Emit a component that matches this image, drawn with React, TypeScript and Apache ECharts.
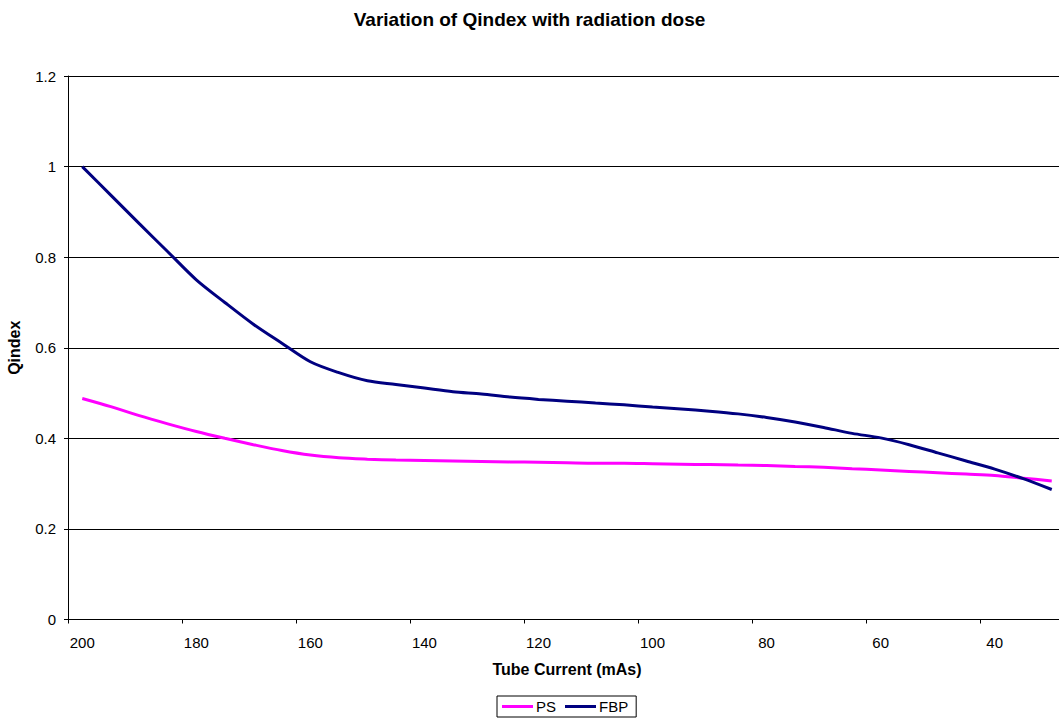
import React, { useEffect, useRef } from "react";
import * as echarts from "echarts";

const TITLE = "Variation of Qindex with radiation dose";
const X_NAME = "Tube Current (mAs)";
const Y_NAME = "Qindex";
const SERIES_NAMES = ["PS", "FBP"];

const MAS = [
  200, 195, 190, 185, 180, 175, 170, 165, 160, 155, 150, 145, 140, 135, 130, 125, 120, 115,
  110, 105, 100, 95, 90, 85, 80, 75, 70, 65, 60, 55, 50, 45, 40, 35, 30,
];

const PS = [
  0.488, 0.47, 0.45, 0.432, 0.415, 0.4, 0.386, 0.373, 0.363, 0.357, 0.354, 0.352, 0.351, 0.35,
  0.349, 0.348, 0.347, 0.346, 0.345, 0.345, 0.344, 0.343, 0.342, 0.341, 0.34, 0.338, 0.336,
  0.333, 0.33, 0.327, 0.324, 0.321, 0.318, 0.312, 0.306,
];

const FBP = [
  1.0, 0.937, 0.874, 0.812, 0.75, 0.7, 0.652, 0.61, 0.569, 0.545, 0.527, 0.519, 0.511, 0.503,
  0.498, 0.491, 0.486, 0.482, 0.478, 0.474, 0.469, 0.465, 0.46, 0.454, 0.446, 0.436, 0.424,
  0.411, 0.401, 0.386, 0.368, 0.35, 0.332, 0.311, 0.287,
];

const X_LABELS = [200, 180, 160, 140, 120, 100, 80, 60, 40];
const X_TICKS = [202.5, 182.5, 162.5, 142.5, 122.5, 102.5, 82.5, 62.5, 42.5];

const FONT = "'Liberation Sans', Arial, sans-serif";

export default function App() {
  const ref = useRef<HTMLDivElement>(null);

  useEffect(() => {
    if (!ref.current) return;
    const chart = echarts.init(ref.current, null, { renderer: "svg" });
    const psData = MAS.map((m, i) => [m, PS[i]]);
    const fbpData = MAS.map((m, i) => [m, FBP[i]]);

    chart.setOption({
      animation: false,
      backgroundColor: "#ffffff",
      textStyle: { fontFamily: FONT, color: "#000" },
      title: {
        text: TITLE,
        left: "center",
        top: 10,
        padding: 0,
        textStyle: { fontFamily: FONT, fontSize: 19, fontWeight: "bold", color: "#000" },
      },
      legend: {
        data: SERIES_NAMES,
        left: 497,
        top: 696,
        orient: "horizontal",
        borderColor: "#000",
        borderWidth: 1,
        borderRadius: 0,
        padding: [3, 8, 3, 5],
        itemWidth: 31,
        itemHeight: 3,
        itemGap: 9,
        icon: "rect",
        textStyle: { fontFamily: FONT, fontSize: 15, color: "#000", padding: [0, 0, 0, -2] },
      },
      grid: {
        left: 68,
        top: 76,
        width: 998,
        height: 543.5,
        outerBoundsMode: "none",
        containLabel: false,
      },
      xAxis: {
        type: "value",
        inverse: true,
        min: 27.5,
        max: 202.5,
        name: X_NAME,
        nameLocation: "middle",
        nameGap: 42,
        nameTextStyle: { fontFamily: FONT, fontSize: 16, fontWeight: "bold", color: "#000" },
        axisLine: { show: true, lineStyle: { color: "#000", width: 1 } },
        axisTick: { show: true, length: 4, customValues: X_TICKS, lineStyle: { color: "#000" } },
        axisLabel: {
          customValues: X_LABELS,
          fontFamily: FONT,
          fontSize: 15,
          color: "#000",
          margin: 15,
        },
        splitLine: { show: false },
      },
      yAxis: {
        type: "value",
        min: 0,
        max: 1.2,
        interval: 0.2,
        name: Y_NAME,
        nameLocation: "middle",
        nameRotate: 90,
        nameGap: 46,
        nameTextStyle: { fontFamily: FONT, fontSize: 16, fontWeight: "bold", color: "#000" },
        axisLine: { show: true, lineStyle: { color: "#000", width: 1 } },
        axisTick: { show: true, length: 4, lineStyle: { color: "#000" } },
        axisLabel: { fontFamily: FONT, fontSize: 15, color: "#000", margin: 12 },
        splitLine: { show: true, lineStyle: { color: "#000", width: 1 } },
      },
      series: [
        {
          name: SERIES_NAMES[0],
          type: "line",
          data: psData,
          symbol: "none",
          smooth: 0.3,
          color: "#FF00FF",
          lineStyle: { color: "#FF00FF", width: 3 },
        },
        {
          name: SERIES_NAMES[1],
          type: "line",
          data: fbpData,
          symbol: "none",
          smooth: 0.3,
          color: "#000080",
          lineStyle: { color: "#000080", width: 3 },
        },
      ],
    });

    return () => chart.dispose();
  }, []);

  return (
    <div
      ref={ref}
      style={{ position: "fixed", left: 0, top: 0, width: 1059, height: 722, background: "#fff" }}
    />
  );
}
